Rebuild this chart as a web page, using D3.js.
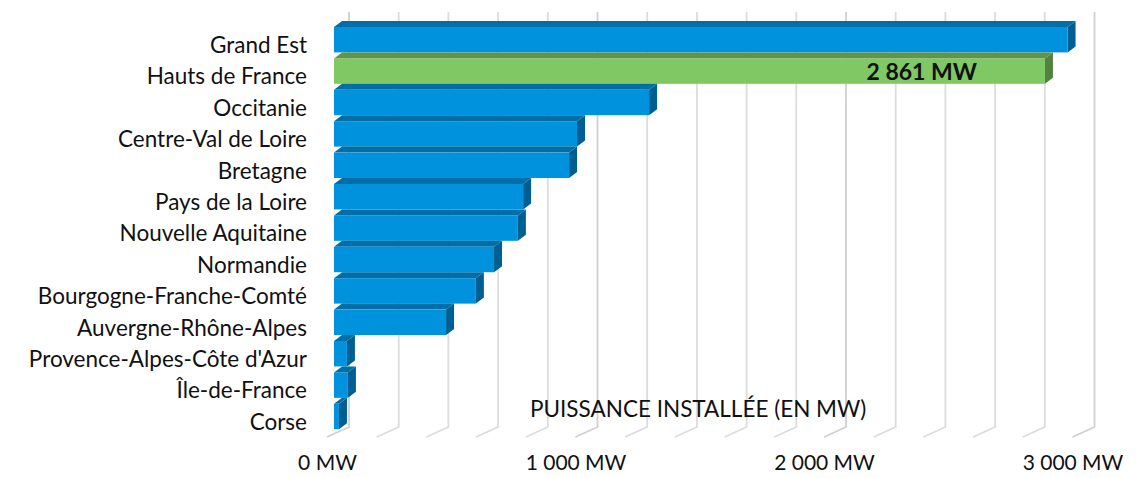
<!DOCTYPE html>
<html><head><meta charset="utf-8">
<script src="https://cdn.jsdelivr.net/npm/d3@7"></script>
<style>body{margin:0;background:#fff}svg{display:block}text{font-family:Lato,"Open Sans",sans-serif}</style>
</head><body>
<svg id="c" width="1144" height="478"></svg>
<script>
const categories = ["Grand Est","Hauts de France","Occitanie","Centre-Val de Loire","Bretagne","Pays de la Loire","Nouvelle Aquitaine","Normandie","Bourgogne-Franche-Comté","Auvergne-Rhône-Alpes","Provence-Alpes-Côte d'Azur","Île-de-France","Corse"];
const values = [2952,2861,1268,978,946,761,740,644,571,451,52,56,20];
const highlighted = "Hauts de France";
const tickValues = [0,1000,2000,3000];
const gridValues = [0,200,400,600,800,1000,1200,1400,1600,1800,2000,2200,2400,2600,2800,3000];
const axisTitle = "PUISSANCE INSTALLÉE (EN MW)";

const svg = d3.select("#c");
const x = d3.scaleLinear().domain([0,3000]).range([334, 1079.5]);
const y = d3.scaleBand().domain(categories).range([24, 432.2]).paddingInner(0.19).paddingOuter(0.095);
const DX = 8, DY = -6;           // bar depth
const BACK = 15, FRONT = -7;     // wall / floor offsets
const wallTop = 12, wallBottom = 427, floorFront = 437;

// gridlines (back wall + floor)
const g = svg.append("g");
gridValues.forEach(v => {
  const xb = x(v) + BACK, xf = x(v) + FRONT;
  g.append("path")
    .attr("d", `M${xb},${wallTop}L${xb},${wallBottom}L${xf},${floorFront}`)
    .attr("fill","none").attr("stroke", v % 1000 === 0 ? "#d0d0d0" : "#dcdcdc").attr("stroke-width",1.8);
});

// bars
const data = categories.map((c,i)=>({c, v: values[i]}));
const col = d => d.c === highlighted ? {front:"#80c864", top:"#61944a", side:"#55813f"} : {front:"#0092dc", top:"#006fa6", side:"#005f92"};
const bars = svg.append("g").selectAll("g").data(data).join("g");
bars.each(function(d){
  const s = d3.select(this), c = col(d);
  const x0 = x(0), x1 = x(d.v), y0 = y(d.c), y1 = y0 + y.bandwidth();
  s.append("path").attr("d", `M${x0},${y0}L${x0+DX},${y0+DY}L${x1+DX},${y0+DY}L${x1},${y0}Z`).attr("fill", c.top);
  s.append("path").attr("d", `M${x1},${y0}L${x1+DX},${y0+DY}L${x1+DX},${y1+DY}L${x1},${y1}Z`).attr("fill", c.side);
  s.append("rect").attr("x", x0).attr("y", y0).attr("width", x1-x0).attr("height", y1-y0).attr("fill", c.front);
});

// value label
const fmt = d3.formatLocale({decimal:",", thousands:" ", grouping:[3], currency:["",""]}).format(",d");
const hd = data.find(d => d.c === highlighted);
svg.append("text").attr("x", x(hd.v) - 68).attr("y", y(hd.c) + y.bandwidth()/2 + 8.5)
  .attr("text-anchor","end").attr("font-weight","bold").attr("font-size",23).attr("fill","#111")
  .text(fmt(hd.v) + " MW");

// category labels
svg.append("g").selectAll("text").data(categories).join("text")
  .attr("x", 307).attr("y", d => y(d) + y.bandwidth()/2 + 5.5).attr("dy","0.35em")
  .attr("text-anchor","end").attr("font-size",22.5).attr("fill","#111").text(d => d);

// x axis
const xf = d3.scaleLinear().domain(x.domain()).range(x.range().map(r => r + FRONT));
const ax = svg.append("g").attr("transform", "translate(0,455)")
  .call(d3.axisBottom(xf).tickValues(tickValues).tickSize(0).tickPadding(0).tickFormat(v => fmt(v) + " MW"));
ax.select(".domain").remove();
ax.selectAll("text").attr("font-size",21).attr("fill","#111").attr("font-family","Lato, sans-serif").attr("dy","0.71em");

// axis title
svg.append("text").attr("x", 530).attr("y", 417).attr("font-size",22.5).attr("fill","#111").text(axisTitle);
</script>
</body></html>
